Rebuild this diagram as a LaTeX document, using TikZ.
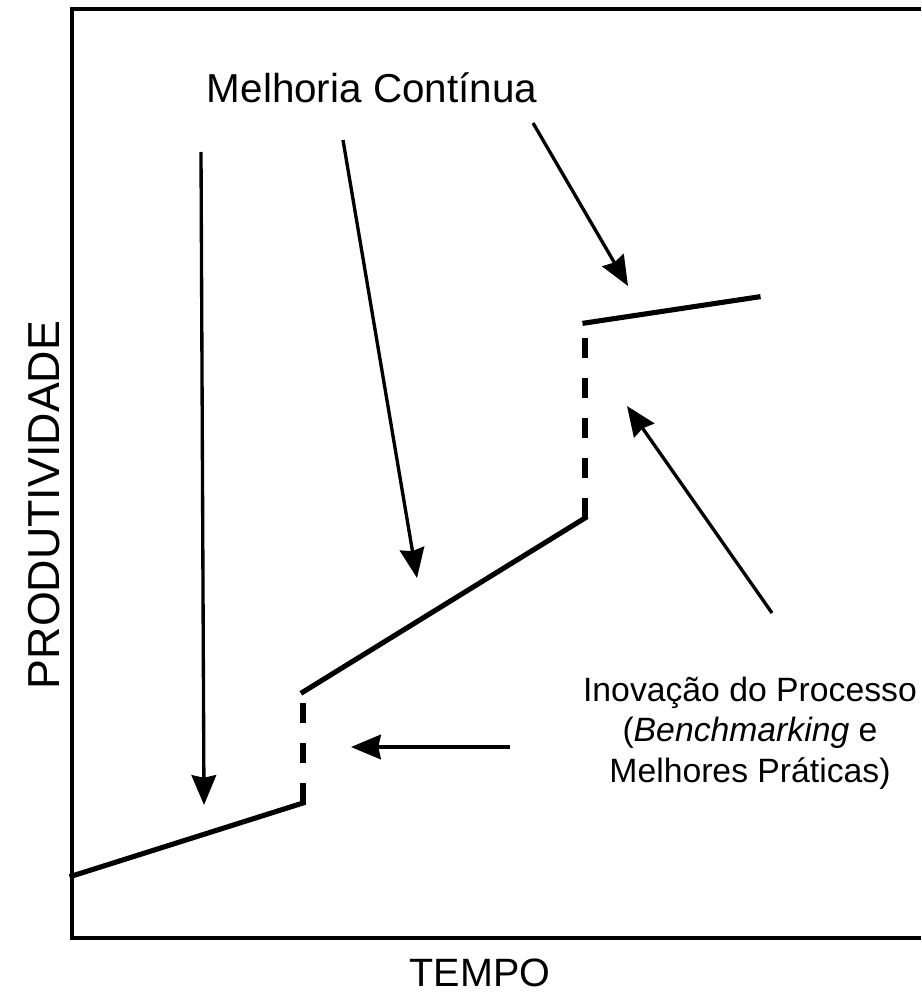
\documentclass[tikz,border=0pt]{standalone}
\usepackage{fontspec}
\setmainfont{Liberation Sans}
\usetikzlibrary{arrows.meta}

\begin{document}
\begin{tikzpicture}[x=0.02cm, y=-0.02cm, >={Stealth[length=17pt,width=14pt,inset=1.5pt]},
  seta/.style={->, line width=1.9pt},
  curva/.style={line width=2.9pt, line cap=rect},
  salto/.style={line width=2.9pt, dash pattern=on 11.4pt off 11.4pt}]
  \useasboundingbox (0,0) rectangle (921,1003);

  % Moldura (eixos)
  \draw[line width=1.8pt] (921,9) -- (72,9) -- (72,938) -- (921,938);

  % Pontos da curva
  \coordinate (p0) at (72,876);
  \coordinate (p1) at (303,803);
  \coordinate (p2) at (303,692);
  \coordinate (p3) at (585,518);
  \coordinate (p4) at (585,323);
  \coordinate (p5) at (758,297);

  % Curva de produtividade
  \draw[curva] (p0) -- (p1);
  \draw[salto] (p1) -- (p2);
  \draw[curva] (p2) -- (p3);
  \draw[salto] (p3) -- (p4);
  \draw[curva] (p4) -- (p5);

  % Textos
  \node[font=\fontsize{23}{27}\selectfont, anchor=base] (melhoria) at (372,103) {Melhoria Contínua};
  \node[font=\fontsize{19.2}{22.8}\selectfont, align=center, anchor=base] (inovacao) at (750,782)
    {Inovação do Processo\\(\textit{Benchmarking} e\\Melhores Práticas)};
  \node[font=\fontsize{25.5}{30}\selectfont, rotate=90] (produtividade) at (44,505) {PRODUTIVIDADE};
  \node[font=\fontsize{22.5}{26}\selectfont] (tempo) at (480,973) {TEMPO};

  % Setas da melhoria contínua
  \coordinate (m1) at (201,152);
  \coordinate (m1p) at (204,805);
  \coordinate (m2) at (343,140);
  \coordinate (m2p) at (417,578);
  \coordinate (m3) at (533,123);
  \coordinate (m3p) at (628,286);
  \draw[seta] (m1) -- (m1p);
  \draw[seta] (m2) -- (m2p);
  \draw[seta] (m3) -- (m3p);

  % Setas da inovação
  \coordinate (i1) at (510,747);
  \coordinate (i1p) at (351,747);
  \coordinate (i2) at (772,613);
  \coordinate (i2p) at (627,406);
  \draw[seta] (i1) -- (i1p);
  \draw[seta] (i2) -- (i2p);

\end{tikzpicture}
\end{document}
